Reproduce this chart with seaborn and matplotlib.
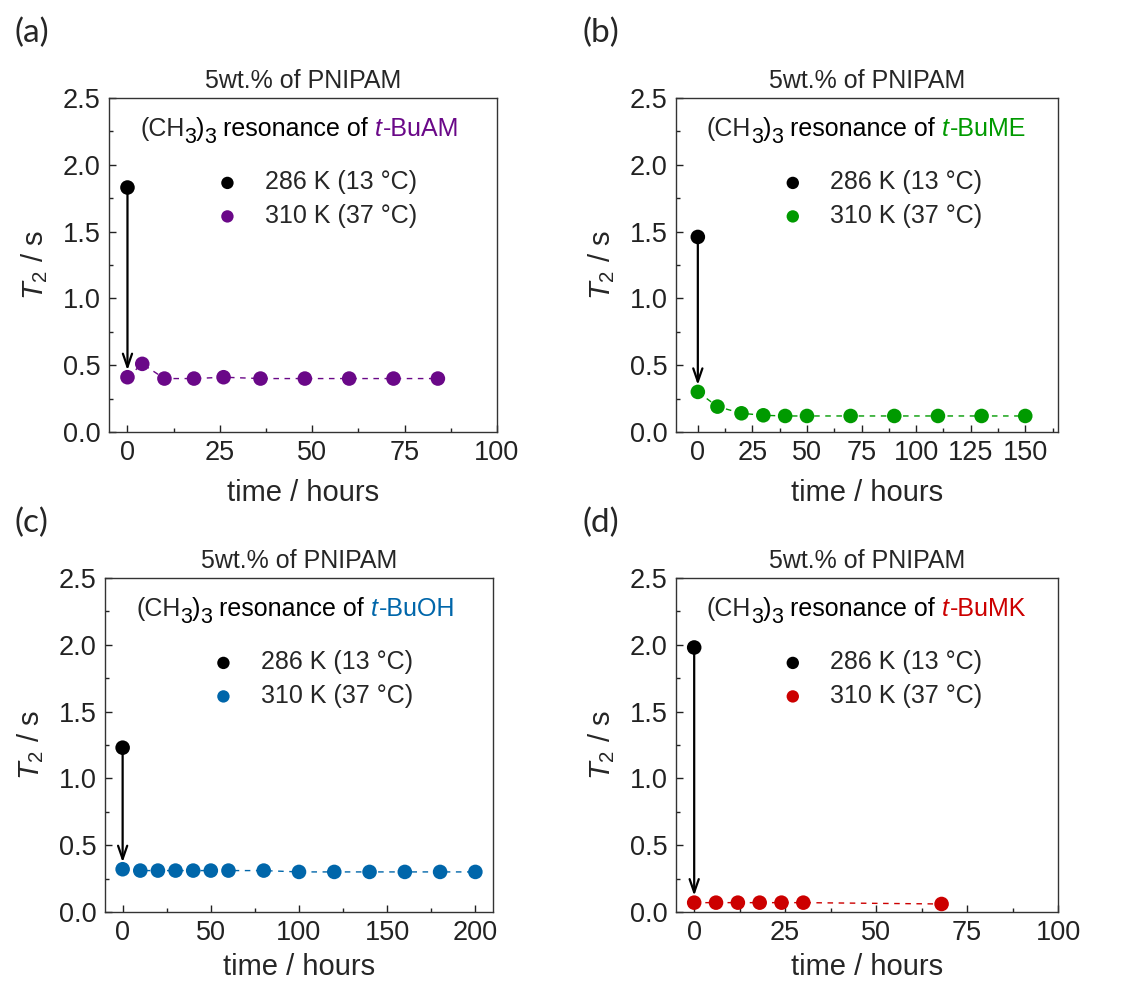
import matplotlib
matplotlib.use("Agg")
import matplotlib.pyplot as plt
import seaborn as sns
import numpy as np
from matplotlib.ticker import MultipleLocator, FormatStrFormatter

sns.set_style("ticks")
plt.rcParams['font.family'] = ['Liberation Sans', 'DejaVu Sans']
plt.rcParams['mathtext.fontset'] = 'custom'
plt.rcParams['mathtext.rm'] = 'Liberation Sans'
plt.rcParams['mathtext.it'] = 'Liberation Sans:italic'

# data
t_buam = [0, 4, 10, 18, 26, 36, 48, 60, 72, 84]
T2_buam = [0.41, 0.51, 0.40, 0.40, 0.41, 0.40, 0.40, 0.40, 0.40, 0.40]
T2_buam_cold = 1.83

t_bume = [0, 9, 20, 30, 40, 50, 70, 90, 110, 130, 150]
T2_bume = [0.30, 0.19, 0.14, 0.125, 0.12, 0.12, 0.12, 0.12, 0.12, 0.12, 0.12]
T2_bume_cold = 1.46

t_buoh = [0, 10, 20, 30, 40, 50, 60, 80, 100, 120, 140, 160, 180, 200]
T2_buoh = [0.32, 0.31, 0.31, 0.31, 0.31, 0.31, 0.31, 0.31, 0.30, 0.30, 0.30, 0.30, 0.30, 0.30]
T2_buoh_cold = 1.23

t_bumk = [0, 6, 12, 18, 24, 30, 68]
T2_bumk = [0.07, 0.07, 0.07, 0.07, 0.07, 0.07, 0.06]
T2_bumk_cold = 1.98

names = ["-BuAM", "-BuME", "-BuOH", "-BuMK"]
letters = ["(a)", "(b)", "(c)", "(d)"]
colors = ["#6a0888", "#009a00", "#0066aa", "#cc0000"]

panels = [
    (t_buam, T2_buam, T2_buam_cold, (-5, 100), 25, 12.5),
    (t_bume, T2_bume, T2_bume_cold, (-10, 165), 25, 12.5),
    (t_buoh, T2_buoh, T2_buoh_cold, (-10, 210), 50, 25),
    (t_bumk, T2_bumk, T2_bumk_cold, (-5, 100), 25, 12.5),
]

W, H = 1129, 984
boxes = [(109, 98, 497, 432), (676, 98, 1058, 432),
         (105, 578, 493, 912), (676, 578, 1058, 912)]
letter_pos = [(15, 33), (582, 33), (15, 523), (582, 523)]

fig = plt.figure(figsize=(W / 100, H / 100), dpi=100)

for i, (x, y, ycold, xlim, xmaj, xmin) in enumerate(panels):
    l, t, r, b = boxes[i]
    ax = fig.add_axes([l / W, 1 - b / H, (r - l) / W, (b - t) / H])
    col = colors[i]

    sns.lineplot(x=x, y=y, ax=ax, color=col, lw=1.0, linestyle=(0, (4, 4)), zorder=2)
    sns.scatterplot(x=x, y=y, ax=ax, color=col, s=110, edgecolor='none', zorder=3,
                    label="310 K (37 °C)")
    sns.scatterplot(x=[0], y=[ycold], ax=ax, color='black', s=110, edgecolor='none', zorder=3,
                    label="286 K (13 °C)")
    ax.annotate("", xy=(0, y[0]), xytext=(0, ycold),
                arrowprops=dict(arrowstyle="->,head_length=0.95,head_width=0.33",
                                color='black', lw=1.6, shrinkA=0, shrinkB=5), zorder=4)

    ax.set_xlim(*xlim)
    ax.set_ylim(0, 2.5)
    ax.xaxis.set_major_locator(MultipleLocator(xmaj))
    ax.xaxis.set_minor_locator(MultipleLocator(xmin))
    ax.yaxis.set_major_locator(MultipleLocator(0.5))
    ax.yaxis.set_minor_locator(MultipleLocator(0.25))
    ax.yaxis.set_major_formatter(FormatStrFormatter('%.1f'))
    ax.tick_params(which='both', direction='in', top=False, right=False, labelsize=19.5, pad=6,
                   colors='#222222')
    ax.tick_params(which='major', length=5, width=1)
    ax.tick_params(which='minor', length=3, width=1)
    for s in ax.spines.values():
        s.set_visible(True)
        s.set_linewidth(1.0)
        s.set_color('#333333')

    ax.set_xlabel("time / hours", fontsize=21, labelpad=9 if i < 2 else 5)
    ax.set_ylabel(r"$T_2$ / s", fontsize=21, labelpad=9)
    ax.set_title("5wt.% of PNIPAM", fontsize=18, pad=7)

    # multi-coloured annotation line, chained left to right
    y0 = 0.886
    prev = ax.text(0.08, y0, "(CH", transform=ax.transAxes, ha='left', va='baseline',
                   fontsize=18)
    rest = [("3", 15.5, -5, 'normal', 'black', 0),
            (")", 18, 0, 'normal', 'black', 0),
            ("3", 15.5, -5, 'normal', 'black', 0),
            ("resonance of", 18, 0, 'normal', 'black', 5),
            ("t", 18, 0, 'italic', col, 5),
            (names[i], 18, 0, 'normal', col, 0.5)]
    for s, fs, dy, style, c, dx in rest:
        prev = ax.annotate(s, xy=(1.0, y0), xycoords=(prev, 'axes fraction'),
                           xytext=(dx, dy), textcoords='offset points',
                           ha='left', va='baseline', fontsize=fs, fontstyle=style, color=c)

    h, lab = ax.get_legend_handles_labels()
    ax.legend(h[::-1], lab[::-1], loc='upper left', bbox_to_anchor=(0.273, 0.783),
              frameon=False, fontsize=18, handlelength=1.0, handletextpad=1.0,
              labelspacing=0.38, borderpad=0, borderaxespad=0, markerscale=0.85)

    fig.text(letter_pos[i][0] / W, 1 - letter_pos[i][1] / H, letters[i],
             fontsize=24, family=['Lato', 'DejaVu Sans'], va='center', ha='left')

fig.savefig("out.png", dpi=100)
